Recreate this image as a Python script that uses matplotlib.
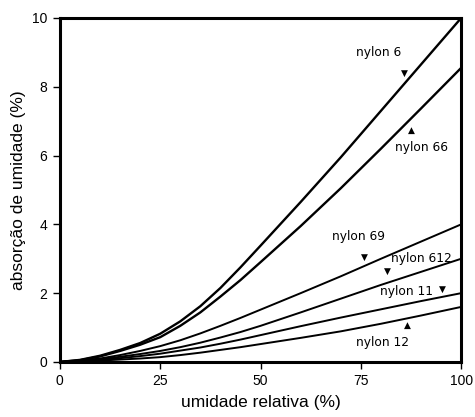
import numpy as np
import matplotlib
matplotlib.use("Agg")
import matplotlib.pyplot as plt

plt.rcParams['font.family'] = ['Liberation Sans', 'DejaVu Sans']

# umidade relativa (%)
umidade = [0, 5, 10, 15, 20, 25, 30, 35, 40, 45, 50, 60, 70, 80, 90, 100]

# absorção de umidade (%) para cada nylon
nylon_6 = [0, 0.06, 0.18, 0.35, 0.55, 0.82, 1.18, 1.62, 2.15, 2.75, 3.38,
           4.65, 5.95, 7.3, 8.65, 10.0]
nylon_66 = [0, 0.05, 0.16, 0.32, 0.5, 0.72, 1.05, 1.44, 1.9, 2.38, 2.9,
            3.95, 5.05, 6.2, 7.37, 8.55]
nylon_69 = [0, 0.04, 0.1, 0.2, 0.32, 0.46, 0.63, 0.83, 1.05, 1.28, 1.52,
            2.0, 2.49, 3.0, 3.5, 4.0]
nylon_612 = [0, 0.03, 0.08, 0.15, 0.23, 0.32, 0.43, 0.56, 0.71, 0.87, 1.05,
             1.44, 1.84, 2.24, 2.62, 3.0]
nylon_11 = [0, 0.02, 0.06, 0.11, 0.17, 0.24, 0.33, 0.42, 0.53, 0.65, 0.78,
            1.04, 1.29, 1.53, 1.77, 2.0]
nylon_12 = [0, 0.02, 0.04, 0.07, 0.1, 0.14, 0.2, 0.27, 0.35, 0.43, 0.52,
            0.7, 0.89, 1.11, 1.35, 1.6]

series = [nylon_6, nylon_66, nylon_69, nylon_612, nylon_11, nylon_12]
larguras = [1.7, 1.7, 1.4, 1.4, 1.4, 1.4]

# rótulos: texto, posição do texto, seta, posição da seta
rotulos = [
    ("nylon 6", (79.3, 9.0), "▼", (85.8, 8.4)),
    ("nylon 66", (90.0, 6.22), "▲", (87.5, 6.74)),
    ("nylon 69", (74.3, 3.64), "▼", (76.0, 3.05)),
    ("nylon 612", (90.0, 3.02), "▼", (81.5, 2.62)),
    ("nylon 11", (86.3, 2.06), "▼", (95.3, 2.12)),
    ("nylon 12", (80.5, 0.58), "▲", (86.5, 1.05)),
]

fig = plt.figure(figsize=(4.75, 4.17), dpi=100)
ax = fig.add_axes([0.126, 0.132, 0.845, 0.825])

for s, lw in zip(series, larguras):
    ax.plot(umidade, s, color='black', lw=lw, solid_joinstyle='round')

for txt, pos, seta, spos in rotulos:
    ax.text(pos[0], pos[1], txt, ha='center', va='center', fontsize=8.8,
            family='DejaVu Sans')
    ax.text(spos[0], spos[1], seta, ha='center', va='center', fontsize=6.5,
            family='DejaVu Sans')

ax.set_xlim(0, 100)
ax.set_ylim(0, 10)
ax.set_xticks([0, 25, 50, 75, 100])
ax.set_yticks([0, 2, 4, 6, 8, 10])
for sp in ax.spines.values():
    sp.set_linewidth(2.2)
ax.tick_params(direction='out', length=5, width=1, labelsize=10, pad=4)
ax.set_xlabel("umidade relativa (%)", fontsize=12.5, labelpad=5)
ax.set_ylabel("absorção de umidade (%)", fontsize=12.5, labelpad=4)

fig.savefig("out.png", dpi=100)
